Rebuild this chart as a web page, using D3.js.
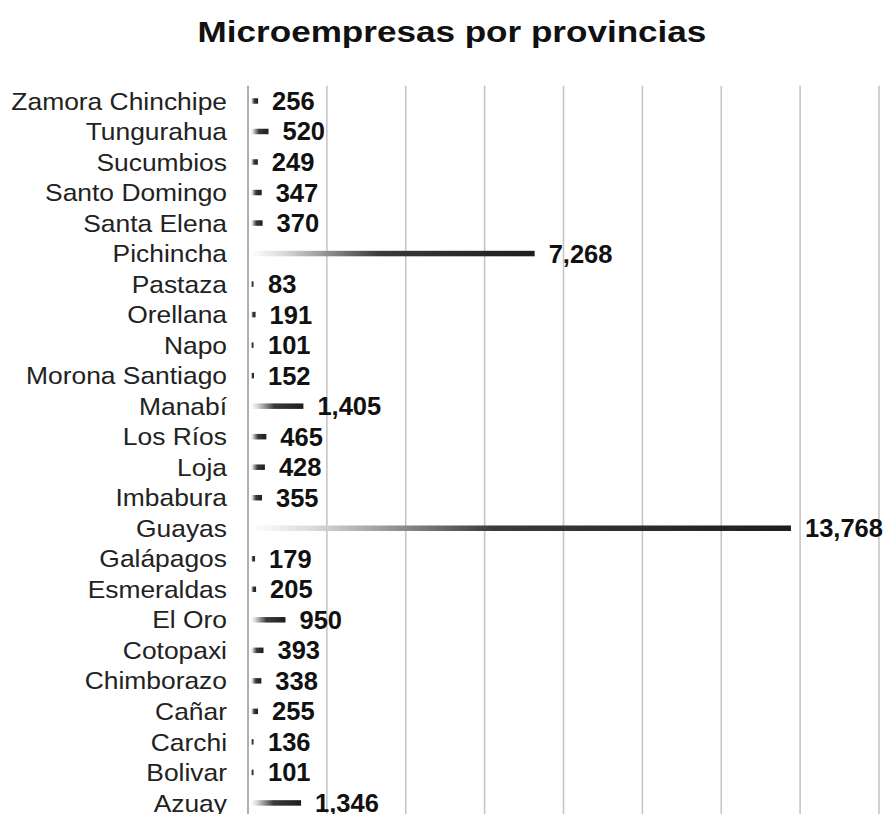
<!DOCTYPE html>
<html>
<head>
<meta charset="utf-8">
<script src="https://cdn.jsdelivr.net/npm/d3@7"></script>
<style>
  html, body { margin: 0; padding: 0; background: #fff; }
  svg { display: block; }
</style>
</head>
<body>
<figure id="bars" style="margin:0"></figure>
<script>
// provinces, top to bottom as shown
const provincias = ["Zamora Chinchipe", "Tungurahua", "Sucumbios", "Santo Domingo", "Santa Elena",
  "Pichincha", "Pastaza", "Orellana", "Napo", "Morona Santiago", "Manabí", "Los Ríos", "Loja",
  "Imbabura", "Guayas", "Galápagos", "Esmeraldas", "El Oro", "Cotopaxi", "Chimborazo", "Cañar",
  "Carchi", "Bolivar", "Azuay"];
const microempresas = [256, 520, 249, 347, 370, 7268, 83, 191, 101, 152, 1405, 465, 428,
  355, 13768, 179, 205, 950, 393, 338, 255, 136, 101, 1346];
const gridTicks = [0, 2000, 4000, 6000, 8000, 10000, 12000, 14000, 16000];
const title = "Microempresas por provincias";

const width = 889, height = 814;
const x0 = 248, x1 = 879;
const plotTop = 85.7, step = 30.52;

const data = provincias.map((p, i) => ({ name: p, value: microempresas[i] }));

const svg = d3.select("figure#bars")
  .append("svg")
  .attr("width", width)
  .attr("height", height);

const defs = svg.append("defs");
const grad = defs.append("linearGradient")
  .attr("id", "barGrad")
  .attr("x1", "0%").attr("x2", "100%").attr("y1", "0%").attr("y2", "0%");
grad.append("stop").attr("offset", "0%").attr("stop-color", "#ffffff");
grad.append("stop").attr("offset", "12%").attr("stop-color", "#d8d8d8");
grad.append("stop").attr("offset", "45%").attr("stop-color", "#3a3a3a");
grad.append("stop").attr("offset", "100%").attr("stop-color", "#1e1e1e");

const xScale = d3.scaleLinear().domain([0, 16000]).range([x0, x1]);
const yScale = d3.scaleBand()
  .domain(provincias)
  .range([plotTop, plotTop + step * provincias.length])
  .padding(0);

// title
svg.append("text")
  .attr("transform", "translate(452,42) scale(1.17,1)")
  .attr("text-anchor", "middle")
  .attr("font-family", "Liberation Sans, Arial, sans-serif")
  .attr("font-weight", "bold")
  .attr("font-size", 30)
  .attr("fill", "#111")
  .text(title);

// gridlines
svg.append("g")
  .selectAll("line")
  .data(gridTicks)
  .join("line")
  .attr("x1", d => xScale(d))
  .attr("x2", d => xScale(d))
  .attr("y1", plotTop)
  .attr("y2", height)
  .attr("stroke", d => d === 0 ? "#9a9a9a" : "#c6c6c6")
  .attr("stroke-width", 1.6);

// bars
const bh = 5.5;
svg.append("g")
  .selectAll("rect")
  .data(data)
  .join("rect")
  .attr("x", xScale(0) + 3)
  .attr("y", d => yScale(d.name) + yScale.bandwidth() / 2 - bh / 2)
  .attr("width", d => Math.max(2.5, xScale(d.value) - xScale(0) - 3))
  .attr("height", bh)
  .attr("fill", "url(#barGrad)");

// category labels
svg.append("g")
  .selectAll("text")
  .data(data)
  .join("text")
  .attr("transform", d => `translate(227,${yScale(d.name) + yScale.bandwidth() / 2}) scale(1.1,1)`)
  .attr("text-anchor", "end")
  .attr("dy", "0.36em")
  .attr("font-family", "Liberation Sans, Arial, sans-serif")
  .attr("font-size", 24)
  .attr("fill", "#222")
  .text(d => d.name);

// value labels
const fmt = d3.format(",");
svg.append("g")
  .selectAll("text")
  .data(data)
  .join("text")
  .attr("transform", d => `translate(${Math.max(xScale(d.value), xScale(0) + 6) + 14},${yScale(d.name) + yScale.bandwidth() / 2}) scale(1.02,1)`)
  .attr("dy", "0.36em")
  .attr("font-family", "Liberation Sans, Arial, sans-serif")
  .attr("font-weight", "bold")
  .attr("font-size", 25)
  .attr("fill", "#111")
  .text(d => fmt(d.value));
</script>
</body>
</html>
